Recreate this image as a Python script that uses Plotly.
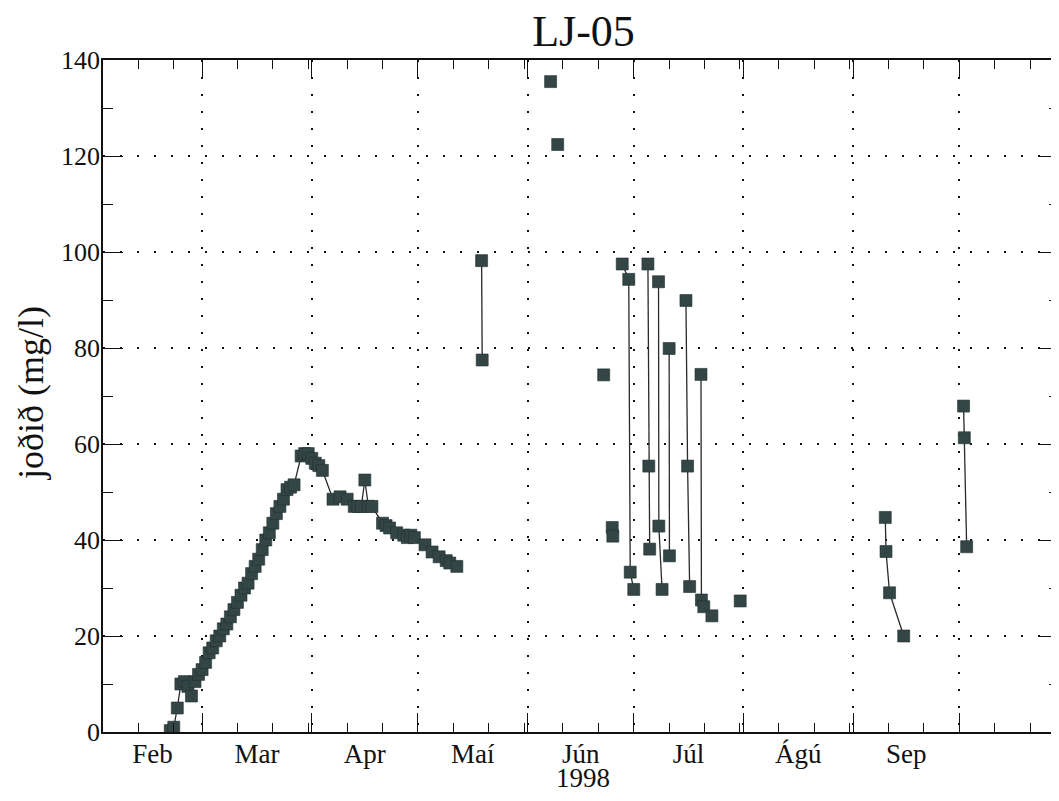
import pandas as pd
import plotly.graph_objects as go

# ---------------- data ----------------
early_dates = ["1998-02-20", "1998-02-21", "1998-02-22", "1998-02-23", "1998-02-24",
               "1998-02-25", "1998-02-26", "1998-02-27", "1998-02-28", "1998-03-01",
               "1998-03-02", "1998-03-03", "1998-03-04", "1998-03-05", "1998-03-06",
               "1998-03-07", "1998-03-08", "1998-03-09", "1998-03-10", "1998-03-11",
               "1998-03-12", "1998-03-13", "1998-03-14", "1998-03-15", "1998-03-16",
               "1998-03-17", "1998-03-18", "1998-03-19", "1998-03-20", "1998-03-21",
               "1998-03-22", "1998-03-23", "1998-03-24", "1998-03-25", "1998-03-26",
               "1998-03-27", "1998-03-29", "1998-03-30", "1998-03-31", "1998-04-01",
               "1998-04-02", "1998-04-03", "1998-04-04", "1998-04-07", "1998-04-09",
               "1998-04-11", "1998-04-13", "1998-04-14", "1998-04-15", "1998-04-16",
               "1998-04-17", "1998-04-18", "1998-04-21", "1998-04-22", "1998-04-23",
               "1998-04-25", "1998-04-27", "1998-04-28", "1998-04-29", "1998-04-30",
               "1998-05-03", "1998-05-05", "1998-05-07", "1998-05-09", "1998-05-10",
               "1998-05-12"]
early_vals = [0.3, 1.0, 5.0, 10.0, 10.5,
              9.5, 7.5, 10.5, 12.0, 13.0,
              14.5, 16.5, 17.5, 19.0, 20.0,
              21.5, 22.5, 24.0, 25.5, 27.0,
              28.5, 30.0, 31.0, 33.0, 34.5,
              36.0, 38.0, 40.0, 41.5, 43.5,
              45.5, 47.0, 48.5, 50.5, 51.0,
              51.5, 57.5, 58.0, 58.0, 57.0,
              56.0, 55.5, 54.5, 48.5, 49.0,
              48.5, 47.0, 47.0, 47.0, 52.5,
              47.0, 47.0, 43.5, 43.0, 42.5,
              41.5, 41.0, 40.5, 41.0, 40.5,
              39.0, 37.5, 36.5, 35.7, 35.2,
              34.5]

may_dates = ["1998-05-19 00:00", "1998-05-19 04:00"]
may_vals = [98.2, 77.5]

jun_a_dates = ["1998-06-07 12:00"]
jun_a_vals = [135.5]
jun_b_dates = ["1998-06-09 12:00"]
jun_b_vals = [122.4]
jun_c_dates = ["1998-06-22 12:00"]
jun_c_vals = [74.4]
jun_d_dates = ["1998-06-24 22:00", "1998-06-25 02:00"]
jun_d_vals = [42.6, 40.8]
jun_e_dates = ["1998-06-27 18:00", "1998-06-29 14:00", "1998-06-30 00:00", "1998-07-01 00:00"]
jun_e_vals = [97.5, 94.3, 33.3, 29.7]

jul_a_dates = ["1998-07-05 00:00", "1998-07-05 06:00", "1998-07-05 12:00"]
jul_a_vals = [97.5, 55.4, 38.1]
jul_b_dates = ["1998-07-08 00:00", "1998-07-08 02:00", "1998-07-09 00:00"]
jul_b_vals = [93.8, 42.9, 29.7]
jul_c_dates = ["1998-07-11 00:00", "1998-07-11 02:00"]
jul_c_vals = [79.9, 36.7]
jul_d_dates = ["1998-07-15 18:00", "1998-07-16 05:00", "1998-07-16 19:00"]
jul_d_vals = [89.9, 55.4, 30.3]
jul_e_dates = ["1998-07-20 00:00", "1998-07-20 03:00", "1998-07-20 19:00", "1998-07-23 02:00"]
jul_e_vals = [74.5, 27.5, 26.1, 24.2]
jul_f_dates = ["1998-07-31 02:00"]
jul_f_vals = [27.3]

sep_dates = ["1998-09-10 02:00", "1998-09-10 07:00", "1998-09-11 07:00", "1998-09-15 07:00"]
sep_vals = [44.7, 37.6, 29.0, 20.0]
oct_dates = ["1998-10-02 05:00", "1998-10-02 10:00", "1998-10-03 02:00"]
oct_vals = [67.9, 61.3, 38.6]

month_starts = ["1998-02-01", "1998-03-01", "1998-04-01", "1998-05-01", "1998-06-01",
                "1998-07-01", "1998-08-01", "1998-09-01", "1998-10-01"]
month_labels = ["Feb", "Mar", "Apr", "Maí", "Jún", "Júl", "Ágú", "Sep"]
minor_days = ["1998-02-11", "1998-02-21", "1998-03-11", "1998-03-21", "1998-03-31",
              "1998-04-11", "1998-04-21", "1998-05-11", "1998-05-21", "1998-05-31",
              "1998-06-11", "1998-06-21", "1998-07-11", "1998-07-21", "1998-07-31",
              "1998-08-11", "1998-08-21", "1998-08-31", "1998-09-11", "1998-09-21",
              "1998-10-11", "1998-10-21"]
y_major = [0, 20, 40, 60, 80, 100, 120, 140]
y_minor = [10, 30, 50, 70, 90, 110, 130]

title_text = "LJ-05"
y_title = "joðið (mg/l)"
x_title = "1998"
x_range = ["1998-02-01", "1998-10-26 22:00"]   # visible part of the (cropped) time axis
y_range = [0, 140]

# ---------------- build figure ----------------
groups = [(early_dates, early_vals), (may_dates, may_vals),
          (jun_a_dates, jun_a_vals), (jun_b_dates, jun_b_vals), (jun_c_dates, jun_c_vals),
          (jun_d_dates, jun_d_vals), (jun_e_dates, jun_e_vals),
          (jul_a_dates, jul_a_vals), (jul_b_dates, jul_b_vals), (jul_c_dates, jul_c_vals),
          (jul_d_dates, jul_d_vals), (jul_e_dates, jul_e_vals), (jul_f_dates, jul_f_vals),
          (sep_dates, sep_vals), (oct_dates, oct_vals)]
xs, ys = [], []
for d, v in groups:
    xs += list(d) + [None]
    ys += list(v) + [None]

starts = pd.to_datetime(month_starts)
mids = [starts[i] + (starts[i + 1] - starts[i]) / 2 for i in range(len(month_labels))]

SERIF = "Liberation Serif, Times New Roman, serif"
INK = "#111111"

fig = go.Figure()
fig.add_trace(go.Scatter(
    x=xs, y=ys, mode="lines+markers", connectgaps=False,
    line=dict(color="#2a2a2a", width=1.3),
    marker=dict(symbol="square", size=12, color="#334545",
                line=dict(color="#223030", width=0.6)),
    showlegend=False, hoverinfo="skip"))
# empty trace that only hosts the overlay axes (month labels / right-hand ticks)
fig.add_trace(go.Scatter(x=[], y=[], xaxis="x2", yaxis="y2", mode="markers",
                         showlegend=False, hoverinfo="skip"))

fig.update_layout(
    width=1043, height=785,
    margin=dict(l=95, r=0, t=52, b=61, autoexpand=False),
    paper_bgcolor="white", plot_bgcolor="white",
    title=dict(text=title_text, x=0.5069, xref="paper", y=1 - 23 / 785, yref="container",
               xanchor="center", yanchor="middle", automargin=False,
               font=dict(family=SERIF, size=44, color=INK)),
    xaxis=dict(
        type="date", range=x_range, tickmode="array", tickvals=month_starts,
        showticklabels=False, ticks="inside", ticklen=19, tickwidth=1.3, tickcolor=INK,
        showgrid=True, gridcolor=INK, gridwidth=1.6, griddash="2px,15px",
        showline=True, linecolor=INK, linewidth=1.5, mirror="ticks", zeroline=False,
        automargin=False,
        minor=dict(tickmode="array", tickvals=minor_days, ticks="inside", ticklen=9,
                   tickwidth=1.3, tickcolor=INK, showgrid=False),
    ),
    xaxis2=dict(
        type="date", range=x_range, overlaying="x", side="bottom", anchor="y2",
        tickmode="array", tickvals=mids, ticktext=month_labels, ticks="",
        showgrid=False, showline=False, zeroline=False, automargin=False,
        ticklabelstandoff=3,
        tickfont=dict(family=SERIF, size=27, color=INK),
    ),
    yaxis=dict(
        range=y_range, tickmode="array", tickvals=y_major, ticks="inside", ticklen=20,
        tickwidth=1.3, tickcolor=INK, showgrid=True, gridcolor=INK, gridwidth=1.6,
        griddash="2px,15px", showline=True, linecolor=INK, linewidth=1.5, zeroline=False,
        automargin=False, ticklabelstandoff=-4,
        tickfont=dict(family=SERIF, size=26, color=INK),
        minor=dict(tickmode="array", tickvals=y_minor, ticks="inside", ticklen=10,
                   tickwidth=1.3, tickcolor=INK, showgrid=False),
    ),
    yaxis2=dict(
        range=y_range, overlaying="y", side="right", anchor="x2",
        tickmode="array", tickvals=y_major, ticks="inside", ticklen=11, tickwidth=1.3,
        tickcolor=INK, showticklabels=False, showgrid=False, showline=False,
        zeroline=False, automargin=False,
        minor=dict(tickmode="array", tickvals=y_minor, ticks="inside", ticklen=2,
                   tickwidth=1.3, tickcolor=INK, showgrid=False),
    ),
    annotations=[
        dict(text=x_title, xref="paper", yref="paper", x=0.5063, y=0,
             xanchor="center", yanchor="middle", yshift=-46, showarrow=False,
             font=dict(family=SERIF, size=27, color=INK)),
        dict(text=y_title, xref="paper", yref="paper", x=-0.076, y=0.5045,
             xanchor="center", yanchor="middle", textangle=-90, showarrow=False,
             font=dict(family=SERIF, size=36, color=INK)),
    ],
)

fig.write_html("out.html")
